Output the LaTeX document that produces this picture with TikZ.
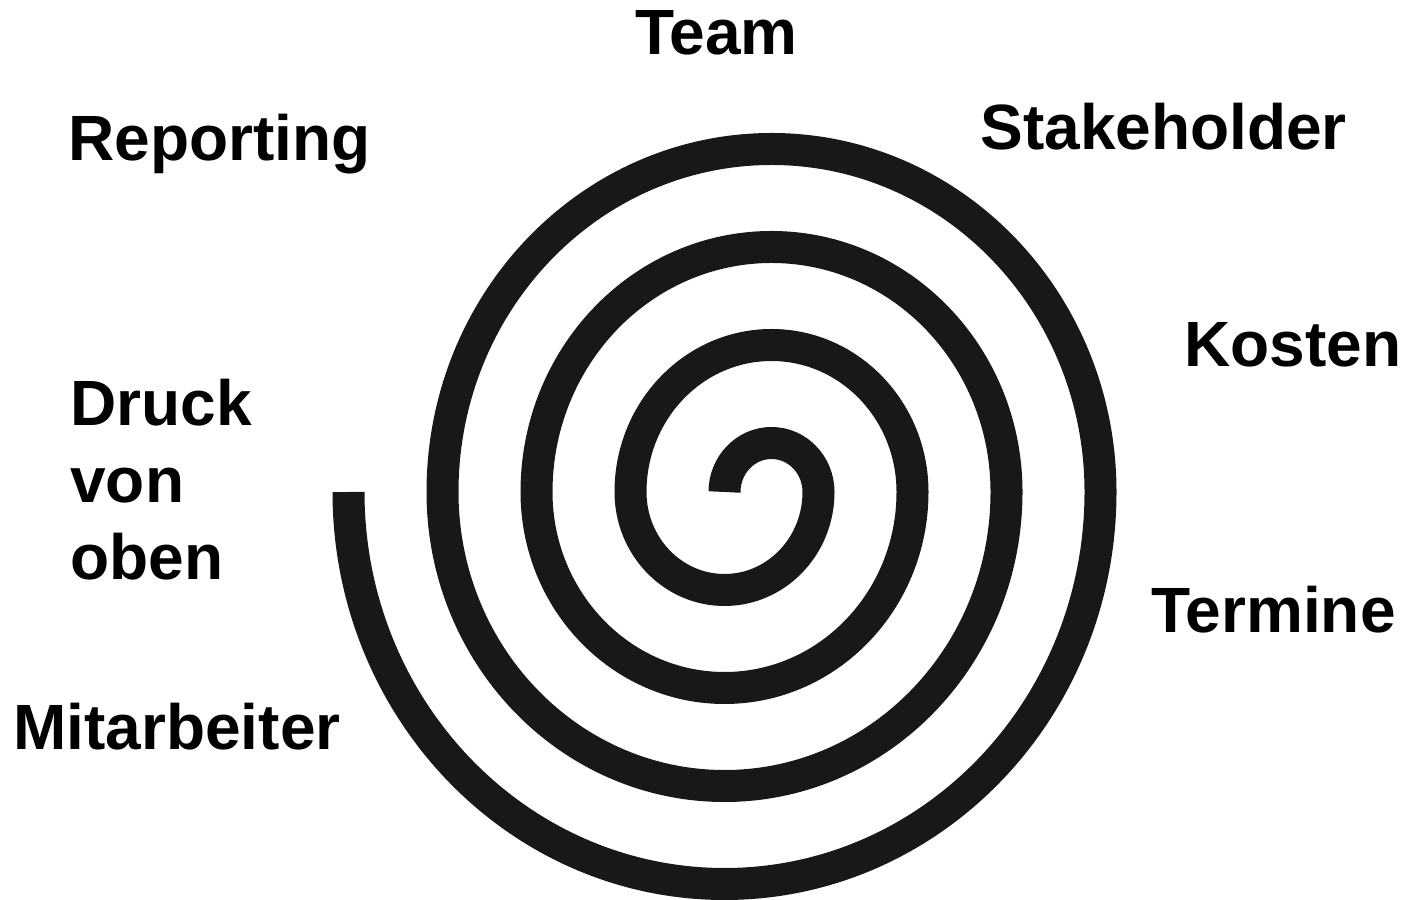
\documentclass[tikz,border=0pt]{standalone}
\usepackage{fontspec}
\setmainfont{Liberation Sans}
\usepackage{tikz}
\usetikzlibrary{positioning}
\definecolor{spiralblack}{RGB}{23,25,24}
\tikzset{
  label text/.style={anchor=base west,inner sep=0pt,align=left,
    font=\fontsize{32}{38.5}\selectfont\bfseries},
  spiral line/.style={line width=16pt,draw=spiralblack,line cap=butt,line join=round}
}
\begin{document}
\begin{tikzpicture}[x=0.5pt,y=0.5pt]
\useasboundingbox (0,0) rectangle (1401,899);
% spiral: upper halves around (771.5,407), lower halves around (724.5,407)
\draw [spiral line] (724.5,407)
  arc[start angle=180,end angle=0,x radius=47,y radius=49]
  arc[start angle=0,end angle=-180,x radius=94,y radius=98]
  arc[start angle=180,end angle=0,x radius=141,y radius=147]
  arc[start angle=0,end angle=-180,x radius=188,y radius=196]
  arc[start angle=180,end angle=0,x radius=235,y radius=245]
  arc[start angle=0,end angle=-180,x radius=282,y radius=294]
  arc[start angle=180,end angle=0,x radius=329,y radius=343]
  arc[start angle=0,end angle=-180,x radius=376,y radius=392];
% labels
\node [label text] (team) at (635,844) {Team};
\node [label text] (reporting) at (68,738) {Reporting};
\node [label text] (stakeholder) at (980,749) {Stakeholder};
\node [label text] (kosten) at (1184,532) {Kosten};
\node [label text] (druck) at (70,319) {Druck\\von\\oben};
\node [label text] (termine) at (1151,266) {Termine};
\node [label text] (mitarbeiter) at (13,149) {Mitarbeiter};
\end{tikzpicture}
\end{document}
